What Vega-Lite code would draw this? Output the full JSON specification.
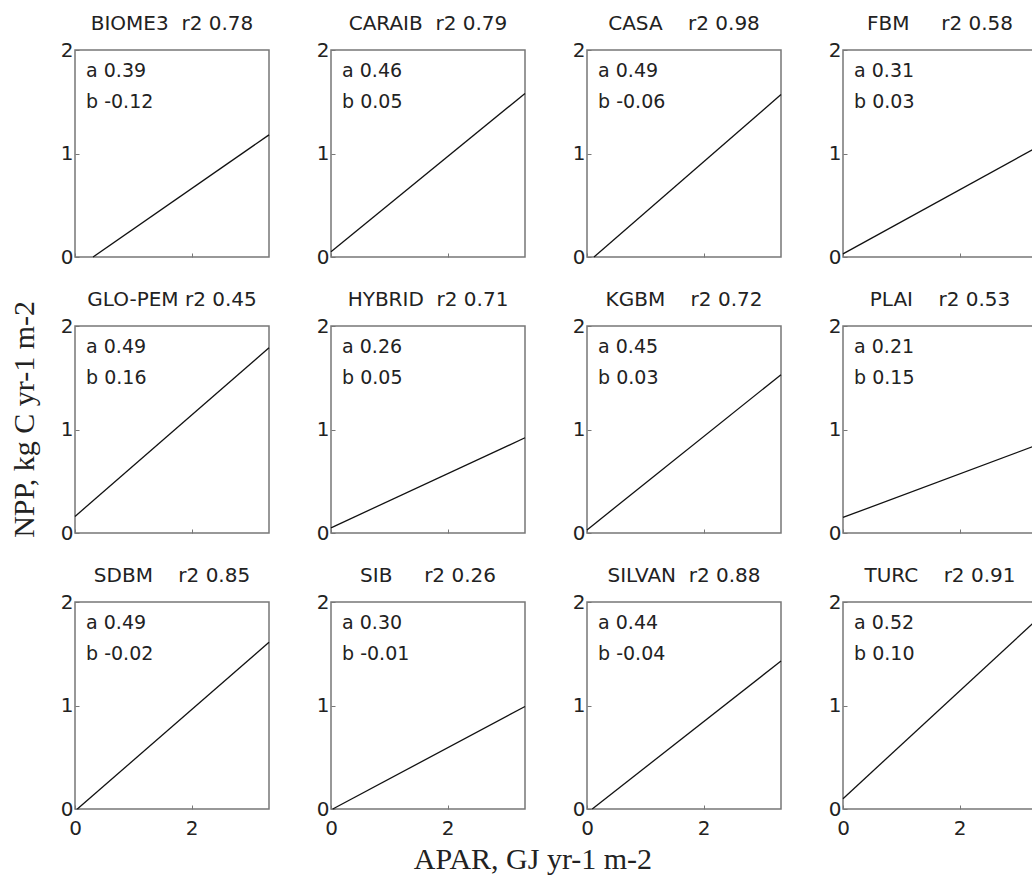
{
  "$schema": "https://vega.github.io/schema/vega-lite/v6.json",
  "background": "white",
  "padding": {"left": 9, "top": 14, "right": 0, "bottom": 2},
  "datasets": {
    "r1": [
      {"t": "BIOME3\u00a0\u00a0r2 0.78", "i": 1, "p": 0, "x": 0.31, "y": 0, "a": "a 0.39", "b": "b -0.12"},
      {"t": "BIOME3\u00a0\u00a0r2 0.78", "i": 1, "p": 1, "x": 3.33, "y": 1.18, "a": "a 0.39", "b": "b -0.12"},
      {"t": "CARAIB\u00a0\u00a0r2 0.79", "i": 2, "p": 0, "x": 0, "y": 0.05, "a": "a 0.46", "b": "b 0.05"},
      {"t": "CARAIB\u00a0\u00a0r2 0.79", "i": 2, "p": 1, "x": 3.33, "y": 1.58, "a": "a 0.46", "b": "b 0.05"},
      {"t": "CASA\u00a0\u00a0\u00a0\u00a0r2 0.98", "i": 3, "p": 0, "x": 0.12, "y": 0, "a": "a 0.49", "b": "b -0.06"},
      {"t": "CASA\u00a0\u00a0\u00a0\u00a0r2 0.98", "i": 3, "p": 1, "x": 3.33, "y": 1.57, "a": "a 0.49", "b": "b -0.06"},
      {"t": "FBM\u00a0\u00a0\u00a0\u00a0\u00a0r2 0.58", "i": 4, "p": 0, "x": 0, "y": 0.03, "a": "a 0.31", "b": "b 0.03"},
      {"t": "FBM\u00a0\u00a0\u00a0\u00a0\u00a0r2 0.58", "i": 4, "p": 1, "x": 3.33, "y": 1.06, "a": "a 0.31", "b": "b 0.03"}
    ],
    "r2": [
      {"t": "GLO-PEM\u00a0r2 0.45", "i": 1, "p": 0, "x": 0, "y": 0.16, "a": "a 0.49", "b": "b 0.16"},
      {"t": "GLO-PEM\u00a0r2 0.45", "i": 1, "p": 1, "x": 3.33, "y": 1.79, "a": "a 0.49", "b": "b 0.16"},
      {"t": "HYBRID\u00a0\u00a0r2 0.71", "i": 2, "p": 0, "x": 0, "y": 0.05, "a": "a 0.26", "b": "b 0.05"},
      {"t": "HYBRID\u00a0\u00a0r2 0.71", "i": 2, "p": 1, "x": 3.33, "y": 0.92, "a": "a 0.26", "b": "b 0.05"},
      {"t": "KGBM\u00a0\u00a0\u00a0\u00a0r2 0.72", "i": 3, "p": 0, "x": 0, "y": 0.03, "a": "a 0.45", "b": "b 0.03"},
      {"t": "KGBM\u00a0\u00a0\u00a0\u00a0r2 0.72", "i": 3, "p": 1, "x": 3.33, "y": 1.53, "a": "a 0.45", "b": "b 0.03"},
      {"t": "PLAI\u00a0\u00a0\u00a0\u00a0r2 0.53", "i": 4, "p": 0, "x": 0, "y": 0.15, "a": "a 0.21", "b": "b 0.15"},
      {"t": "PLAI\u00a0\u00a0\u00a0\u00a0r2 0.53", "i": 4, "p": 1, "x": 3.33, "y": 0.85, "a": "a 0.21", "b": "b 0.15"}
    ],
    "r3": [
      {"t": "SDBM\u00a0\u00a0\u00a0\u00a0r2 0.85", "i": 1, "p": 0, "x": 0.04, "y": 0, "a": "a 0.49", "b": "b -0.02"},
      {"t": "SDBM\u00a0\u00a0\u00a0\u00a0r2 0.85", "i": 1, "p": 1, "x": 3.33, "y": 1.61, "a": "a 0.49", "b": "b -0.02"},
      {"t": "SIB\u00a0\u00a0\u00a0\u00a0\u00a0r2 0.26", "i": 2, "p": 0, "x": 0.03, "y": 0, "a": "a 0.30", "b": "b -0.01"},
      {"t": "SIB\u00a0\u00a0\u00a0\u00a0\u00a0r2 0.26", "i": 2, "p": 1, "x": 3.33, "y": 0.99, "a": "a 0.30", "b": "b -0.01"},
      {"t": "SILVAN\u00a0\u00a0r2 0.88", "i": 3, "p": 0, "x": 0.09, "y": 0, "a": "a 0.44", "b": "b -0.04"},
      {"t": "SILVAN\u00a0\u00a0r2 0.88", "i": 3, "p": 1, "x": 3.33, "y": 1.43, "a": "a 0.44", "b": "b -0.04"},
      {"t": "TURC\u00a0\u00a0\u00a0\u00a0r2 0.91", "i": 4, "p": 0, "x": 0, "y": 0.10, "a": "a 0.52", "b": "b 0.10"},
      {"t": "TURC\u00a0\u00a0\u00a0\u00a0r2 0.91", "i": 4, "p": 1, "x": 3.33, "y": 1.83, "a": "a 0.52", "b": "b 0.10"}
    ]
  },
  "title": {"text": "NPP, kg C yr-1 m-2", "orient": "left", "anchor": "middle", "offset": 20, "dx": 25},
  "vconcat": [
    {
      "data": {"name": "r1"},
      "facet": {"column": {"field": "t", "sort": {"field": "i"}, "header": {"title": null}}},
      "spec": {
        "width": 194, "height": 207,
        "layer": [
          {"mark": {"type": "line", "color": "#111", "strokeWidth": 1.3},
           "encoding": {
             "x": {"field": "x", "type": "quantitative", "scale": {"domain": [0, 3.33], "nice": false}, "axis": {"values": [0, 2], "labels": false}},
             "y": {"field": "y", "type": "quantitative", "scale": {"domain": [0, 2], "nice": false}, "axis": {"values": [0, 1, 2], "format": ".0f", "labelOverlap": false}}
           }},
          {"transform": [{"filter": "datum.p == 0"}],
           "mark": {"type": "text", "align": "left", "baseline": "middle", "font": "DejaVu Sans", "fontSize": 19, "color": "#222"},
           "encoding": {"x": {"datum": 0.19}, "y": {"datum": 1.8}, "text": {"field": "a"}}},
          {"transform": [{"filter": "datum.p == 0"}],
           "mark": {"type": "text", "align": "left", "baseline": "middle", "font": "DejaVu Sans", "fontSize": 19, "color": "#222"},
           "encoding": {"x": {"datum": 0.19}, "y": {"datum": 1.5}, "text": {"field": "b"}}}
        ]
      },
      "resolve": {"axis": {"x": "independent", "y": "independent"}}
    },
    {
      "data": {"name": "r2"},
      "facet": {"column": {"field": "t", "sort": {"field": "i"}, "header": {"title": null}}},
      "spec": {
        "width": 194, "height": 207,
        "layer": [
          {"mark": {"type": "line", "color": "#111", "strokeWidth": 1.3},
           "encoding": {
             "x": {"field": "x", "type": "quantitative", "scale": {"domain": [0, 3.33], "nice": false}, "axis": {"values": [0, 2], "labels": false}},
             "y": {"field": "y", "type": "quantitative", "scale": {"domain": [0, 2], "nice": false}, "axis": {"values": [0, 1, 2], "format": ".0f", "labelOverlap": false}}
           }},
          {"transform": [{"filter": "datum.p == 0"}],
           "mark": {"type": "text", "align": "left", "baseline": "middle", "font": "DejaVu Sans", "fontSize": 19, "color": "#222"},
           "encoding": {"x": {"datum": 0.19}, "y": {"datum": 1.8}, "text": {"field": "a"}}},
          {"transform": [{"filter": "datum.p == 0"}],
           "mark": {"type": "text", "align": "left", "baseline": "middle", "font": "DejaVu Sans", "fontSize": 19, "color": "#222"},
           "encoding": {"x": {"datum": 0.19}, "y": {"datum": 1.5}, "text": {"field": "b"}}}
        ]
      },
      "resolve": {"axis": {"x": "independent", "y": "independent"}}
    },
    {
      "data": {"name": "r3"},
      "title": {"text": "APAR, GJ yr-1 m-2", "orient": "bottom", "anchor": "middle", "offset": 6, "dx": -17},
      "facet": {"column": {"field": "t", "sort": {"field": "i"}, "header": {"title": null}}},
      "spec": {
        "width": 194, "height": 207,
        "layer": [
          {"mark": {"type": "line", "color": "#111", "strokeWidth": 1.3},
           "encoding": {
             "x": {"field": "x", "type": "quantitative", "scale": {"domain": [0, 3.33], "nice": false}, "axis": {"values": [0, 2], "format": ".0f", "labelPadding": 13}},
             "y": {"field": "y", "type": "quantitative", "scale": {"domain": [0, 2], "nice": false}, "axis": {"values": [0, 1, 2], "format": ".0f", "labelOverlap": false}}
           }},
          {"transform": [{"filter": "datum.p == 0"}],
           "mark": {"type": "text", "align": "left", "baseline": "middle", "font": "DejaVu Sans", "fontSize": 19, "color": "#222"},
           "encoding": {"x": {"datum": 0.19}, "y": {"datum": 1.8}, "text": {"field": "a"}}},
          {"transform": [{"filter": "datum.p == 0"}],
           "mark": {"type": "text", "align": "left", "baseline": "middle", "font": "DejaVu Sans", "fontSize": 19, "color": "#222"},
           "encoding": {"x": {"datum": 0.19}, "y": {"datum": 1.5}, "text": {"field": "b"}}}
        ]
      },
      "resolve": {"axis": {"x": "independent", "y": "independent"}}
    }
  ],
  "spacing": 22,
  "config": {
    "view": {"stroke": "#777", "strokeWidth": 1.5},
    "axis": {"grid": false, "domain": false, "tickSize": -4, "tickColor": "#777", "labelFont": "DejaVu Sans", "labelFontSize": 20, "labelColor": "#222", "labelPadding": 6, "labelFlush": false, "labelOverlap": false, "title": null},
    "header": {"labelFont": "DejaVu Sans", "labelFontSize": 20, "labelColor": "#222", "labelPadding": 5, "title": null},
    "title": {"font": "Liberation Serif", "fontSize": 30, "fontWeight": "normal", "color": "#222"},
    "facet": {"spacing": 42}
  }
}
